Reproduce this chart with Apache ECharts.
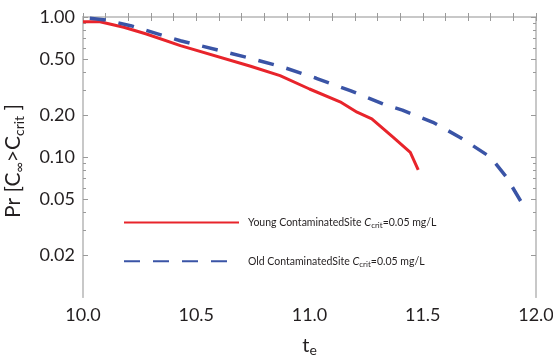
<!DOCTYPE html>
<html>
<head>
<meta charset="utf-8">
<script src="https://cdn.jsdelivr.net/npm/echarts@6/dist/echarts.min.js"></script>
<style>
  html, body { margin: 0; padding: 0; background: #fff; }
  #chart { width: 553px; height: 358px; }
</style>
</head>
<body>
<div id="chart"></div>
<script>
// 数据
var youngT = [10.00, 10.075, 10.18, 10.28, 10.43, 10.74, 10.87, 11.00, 11.135, 11.21, 11.275, 11.37, 11.445, 11.48];
var youngP = [0.926, 0.926, 0.844, 0.756, 0.624, 0.445, 0.381, 0.306, 0.248, 0.209, 0.187, 0.138, 0.108, 0.081];
var oldT = [10.03, 10.10, 10.21, 10.43, 10.74, 10.885, 11.03, 11.18, 11.325, 11.41, 11.545, 11.665, 11.80, 11.87, 11.94];
var oldP = [0.979, 0.952, 0.867, 0.677, 0.507, 0.437, 0.365, 0.298, 0.239, 0.216, 0.177, 0.138, 0.0995, 0.0716, 0.0462];

// y 轴刻度
var majorTicks = [1, 0.5, 0.2, 0.1, 0.05, 0.02];
var minorTicks = [0.9, 0.8, 0.7, 0.6, 0.4, 0.3, 0.09, 0.08, 0.07, 0.06, 0.04, 0.03];

var seriesNames = ['Young ContaminatedSite {i|C}{s|crit}=0.05 mg/L', 'Old ContaminatedSite {i|C}{s|crit}=0.05 mg/L'];

function toLog(arr) { return arr.map(function (v) { return Math.log10(v); }); }
function pairs(xs, ys) { return xs.map(function (x, i) { return [x, Math.log10(ys[i])]; }); }

var chart = echarts.init(document.getElementById('chart'));

var frame = { show: true, lineStyle: { color: '#c8c8c8', width: 2 } };
var tickStyle = { color: '#9a9a9a', width: 1 };
var font = 'Lato, "Open Sans", sans-serif';

function yAxis(pos, ticks, len, showLabel, extra) {
    var a = {
        type: 'value', position: pos, min: -2, max: 0,
        axisLine: frame,
        splitLine: { show: false },
        axisTick: { show: true, inside: true, length: len, lineStyle: tickStyle, customValues: toLog(ticks) },
        axisLabel: {
            show: showLabel, customValues: toLog(ticks), margin: 8,
            color: '#231f20', fontSize: 18, fontFamily: font,
            formatter: function (v) { return Math.pow(10, v).toFixed(2); }
        }
    };
    return Object.assign(a, extra || {});
}

function xAxis(pos, showLabel, extra) {
    var a = {
        type: 'value', position: pos, min: 10, max: 12, interval: 0.5,
        axisLine: frame,
        splitLine: { show: false },
        axisTick: { show: true, inside: true, length: 4, lineStyle: tickStyle },
        minorTick: { show: true, splitNumber: 5, length: 4, lineStyle: tickStyle },
        axisLabel: {
            show: showLabel, margin: 9, color: '#231f20', fontSize: 18, fontFamily: font,
            formatter: function (v) { return v.toFixed(1); }
        }
    };
    return Object.assign(a, extra || {});
}

var option = {
    animation: false,
    backgroundColor: '#fff',
    grid: { left: 83, right: 17, top: 17, bottom: 61, outerBoundsMode: 'none', containLabel: false },
    legend: {
        orient: 'vertical',
        left: 118, top: 212,
        itemWidth: 115, itemHeight: 14, itemGap: 26,
        itemStyle: { opacity: 0 },
        textStyle: {
            color: '#231f20', fontSize: 10.5, fontFamily: font, padding: [0, 0, 0, 4],
            rich: {
                i: { fontStyle: 'italic', fontSize: 11, fontFamily: font, color: '#231f20' },
                s: { fontSize: 8, fontFamily: font, color: '#231f20', verticalAlign: 'bottom', padding: [6, 0, 0, 0] }
            }
        },
        data: seriesNames
    },
    xAxis: [
        xAxis('bottom', true, {
            name: '{t|t}{s|e}', nameLocation: 'middle', nameGap: 37,
            nameTextStyle: {
                rich: {
                    t: { fontSize: 20, fontFamily: font, color: '#231f20' },
                    s: { fontSize: 14, fontFamily: font, color: '#231f20', padding: [9, 0, 0, 0] }
                }
            }
        }),
        xAxis('top', false)
    ],
    yAxis: [
        yAxis('left', majorTicks, 5, true, {
            name: '{n|Pr [C}{s|∞}{n|>C}{s|crit}{n| ]}', nameLocation: 'middle', nameGap: 57, nameRotate: 90,
            nameTextStyle: {
                padding: [0, 8, 0, 0],
                rich: {
                    n: { fontSize: 21, fontFamily: font, color: '#231f20' },
                    s: { fontSize: 14, fontFamily: font, color: '#231f20', padding: [11, 0, 0, 0] }
                }
            }
        }),
        yAxis('left', minorTicks, 3, false),
        yAxis('right', majorTicks, 5, false),
        yAxis('right', minorTicks, 3, false)
    ],
    series: [
        {
            name: seriesNames[0], type: 'line', symbol: 'none',
            data: pairs(youngT, youngP),
            lineStyle: { color: '#e8242b', width: 3 },
            itemStyle: { color: '#e8242b' }
        },
        {
            name: seriesNames[1], type: 'line', symbol: 'none',
            data: pairs(oldT, oldP),
            lineStyle: { color: '#3a54a6', width: 3.5, type: [16, 13] },
            itemStyle: { color: '#3a54a6' }
        }
    ]
};

chart.setOption(option);
</script>
</body>
</html>
